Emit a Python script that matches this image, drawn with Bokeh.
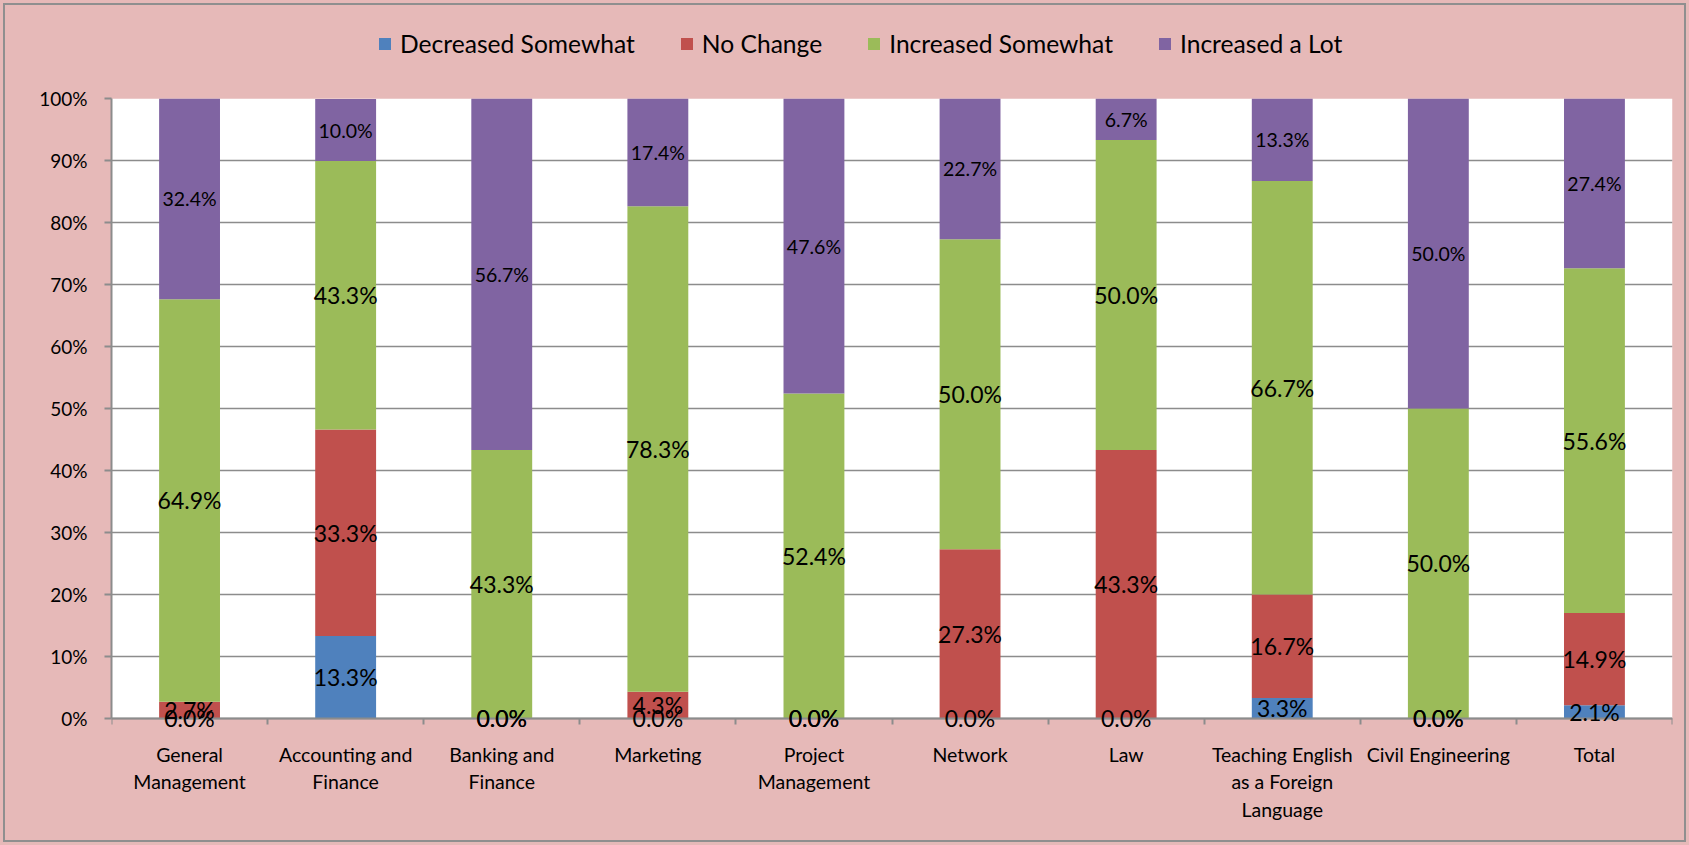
from bokeh.plotting import figure
from bokeh.layouts import column
from bokeh.models import (Range1d, LinearAxis, FixedTicker, BoxAnnotation, Grid,
                          Legend, LegendItem, ColumnDataSource, LabelSet)
from bokeh.embed import file_html
from bokeh.resources import INLINE
from bokeh.core.properties import value

categories = ["General Management", "Accounting and Finance", "Banking and Finance", "Marketing",
              "Project Management", "Network", "Law",
              "Teaching English as a Foreign Language", "Civil Engineering", "Total"]
tick_labels = ["General\nManagement", "Accounting and\nFinance", "Banking and\nFinance", "Marketing",
               "Project\nManagement", "Network", "Law",
               "Teaching English\nas a Foreign\nLanguage", "Civil Engineering", "Total"]

series_names = ["Decreased Somewhat", "No Change", "Increased Somewhat", "Increased a Lot"]
decreased_somewhat = [0.0, 13.3, 0.0, 0.0, 0.0, 0.0, 0.0, 3.3, 0.0, 2.1]
no_change = [2.7, 33.3, 0.0, 4.3, 0.0, 27.3, 43.3, 16.7, 0.0, 14.9]
increased_somewhat = [64.9, 43.3, 43.3, 78.3, 52.4, 50.0, 50.0, 66.7, 50.0, 55.6]
increased_a_lot = [32.4, 10.0, 56.7, 17.4, 47.6, 22.7, 6.7, 13.3, 50.0, 27.4]
colors = ["#4F81BD", "#C0504D", "#9BBB59", "#8064A2"]

y_ticks = [0, 10, 20, 30, 40, 50, 60, 70, 80, 90, 100]
y_tick_labels = ["0%", "10%", "20%", "30%", "40%", "50%", "60%", "70%", "80%", "90%", "100%"]

FONT = "Lato"
GRID = "#8c8c8c"
PINK = "#E6B9B8"
W = 1689
LEFT, RIGHT = 111, 17

n = len(categories)
xpos = [i + 0.5 for i in range(n)]          # category slot centres
edges = [i for i in range(n + 1)]            # category slot boundaries
Y_LO = -2.6                                  # room below 0% so the 0.0% labels are not clipped

series = [decreased_somewhat, no_change, increased_somewhat, increased_a_lot]
keys = ["s0", "s1", "s2", "s3"]
data = {"x": xpos, "cat": categories}
for k, s in zip(keys, series):
    data[k] = s
source = ColumnDataSource(data)

# ---------------- legend strip ----------------
lg = figure(width=W, height=70, x_range=Range1d(0, 1), y_range=Range1d(0, 1),
            output_backend="svg", toolbar_location=None,
            x_axis_location=None, y_axis_location=None,
            min_border_left=LEFT, min_border_right=RIGHT, min_border_top=0, min_border_bottom=0,
            background_fill_color=None, border_fill_color=None, outline_line_color=None)
for g in lg.select(type=Grid):
    g.visible = False
# key swatches only (kept outside the strip's visible range)
key_renderers = [lg.vbar(x=[-5], top=[-5], bottom=[-6], width=0.1, color=c, line_color=None)
                 for c in colors]
legend = Legend(items=[LegendItem(label=nm, renderers=[r]) for nm, r in zip(series_names, key_renderers)],
                orientation="horizontal", location=(266, 12),
                label_text_font=FONT, label_text_font_size="24.6px", label_text_color="black",
                glyph_width=15, glyph_height=15, label_standoff=8, spacing=44,
                padding=5, margin=0, border_line_color=None, background_fill_alpha=0)
lg.add_layout(legend, "center")

# ---------------- main chart ----------------
p = figure(width=W, height=775,
           x_range=Range1d(0, n), y_range=Range1d(Y_LO, 100),
           output_backend="svg", toolbar_location=None,
           min_border_left=LEFT, min_border_right=RIGHT, min_border_top=28, min_border_bottom=111,
           background_fill_color=None, border_fill_color=None,
           outline_line_color=None)

# white plot area from 0% to 100%
plot_area = BoxAnnotation(bottom=0, top=100, fill_color="white", fill_alpha=1,
                          line_color=None, level="underlay")
p.center = [plot_area] + list(p.center)

renderers = p.vbar_stack(keys, x="x", width=0.39, color=colors, line_color=None, source=source)

# y axis
yax = p.yaxis[0]
yax.ticker = FixedTicker(ticks=y_ticks)
yax.bounds = (0, 100)
yax.major_label_overrides = {t: l for t, l in zip(y_ticks, y_tick_labels)}
yax.major_label_text_font = FONT
yax.major_label_text_font_size = "19px"
yax.major_label_text_color = "black"
yax.major_label_standoff = 17
yax.major_tick_out = 7
yax.major_tick_in = 0
yax.minor_tick_line_color = None
yax.axis_line_color = GRID
yax.axis_line_width = 2
yax.major_tick_line_color = GRID
yax.major_tick_line_width = 2
p.ygrid.ticker = FixedTicker(ticks=y_ticks)
p.ygrid.grid_line_color = GRID
p.ygrid.grid_line_width = 1.5
p.xgrid.visible = False

# x axis labels (category names at slot centres)
xax = p.xaxis[0]
xax.ticker = FixedTicker(ticks=xpos)
xax.major_label_overrides = {x: t for x, t in zip(xpos, tick_labels)}
xax.major_tick_line_color = None
xax.major_tick_out = 0
xax.major_tick_in = 0
xax.minor_tick_line_color = None
xax.axis_line_color = None
xax.major_label_text_font = FONT
xax.major_label_text_font_size = "19.5px"
xax.major_label_text_color = "black"
xax.major_label_standoff = 8

# category axis line at 0% with tick marks at slot boundaries
edge_axis = LinearAxis(fixed_location=0,
                       ticker=FixedTicker(ticks=edges),
                       major_tick_out=6, major_tick_in=0,
                       major_label_text_font_size="0px", major_label_text_color=None,
                       major_label_standoff=0,
                       minor_tick_line_color=None,
                       axis_line_color=GRID, axis_line_width=2,
                       major_tick_line_color=GRID, major_tick_line_width=2)
p.add_layout(edge_axis, "below")

# data labels
bottom = [0.0] * n
for i, s in enumerate(series):
    centers = [b + v / 2 for b, v in zip(bottom, s)]
    bottom = [b + v for b, v in zip(bottom, s)]
    lsrc = ColumnDataSource(dict(x=xpos, y=centers, t=[f"{v:.1f}%" for v in s]))
    p.add_layout(LabelSet(x="x", y="y", text="t", source=lsrc,
                          text_font=value(FONT),
                          text_font_size="19.5px" if i == 3 else "23px",
                          text_align="center", text_baseline="middle", text_color="black"))

page = column(lg, p, spacing=0)
page.styles = {"background-color": PINK, "outline": "2px solid #8f8f8f", "outline-offset": "-5px"}

open("out.html", "w").write(file_html(page, INLINE))
